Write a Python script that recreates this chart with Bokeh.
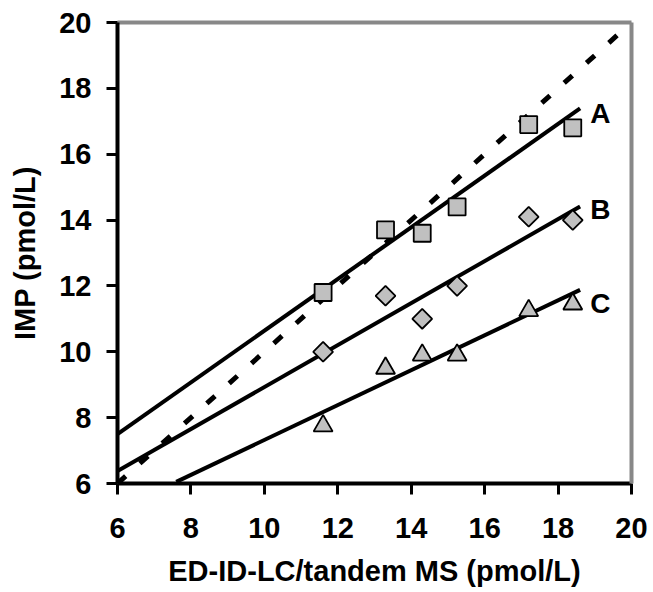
import math
from bokeh.plotting import figure
from bokeh.models import LinearAxis, FixedTicker, Range1d
from bokeh.core.properties import value
from bokeh.embed import file_html
from bokeh.resources import INLINE

# ---- data ----
x_ref = [11.6, 13.3, 14.3, 15.25, 17.2, 18.4]
imp_A = [11.8, 13.7, 13.6, 14.4, 16.9, 16.8]
imp_B = [10.0, 11.7, 11.0, 12.0, 14.1, 14.0]
imp_C = [7.75, 9.5, 9.9, 9.9, 11.25, 11.45]

# fitted regression lines (end points)
fit_A_x = [6.0, 18.6]
fit_A_y = [7.5, 17.39]
fit_B_x = [6.0, 18.6]
fit_B_y = [6.38, 14.41]
fit_C_x = [7.6, 18.6]
fit_C_y = [6.05, 11.88]

# identity line
ident_x = [6, 20]
ident_y = [6, 20]

series_labels = ["A", "B", "C"]
label_x = [19.15, 19.15, 19.15]
label_y = [17.23, 14.32, 11.47]

ticks = [6, 8, 10, 12, 14, 16, 18, 20]

FONT = "Liberation Sans"
FILL = "#c0c0c0"

p = figure(width=653, height=592, output_backend="svg", toolbar_location=None,
           x_range=Range1d(6, 20), y_range=Range1d(6, 20),
           min_border_left=117, min_border_right=22, min_border_top=22,
           min_border_bottom=109, outline_line_color=None,
           background_fill_color="white", border_fill_color="white")
p.xgrid.visible = False
p.ygrid.visible = False

for ax in (p.xaxis[0], p.yaxis[0]):
    ax.ticker = FixedTicker(ticks=ticks)
    ax.axis_line_width = 4
    ax.axis_line_color = "black"
    ax.major_tick_line_width = 3
    ax.major_tick_line_color = "black"
    ax.major_tick_out = 11
    ax.major_tick_in = 0
    ax.minor_tick_line_color = None
    ax.major_label_text_font = FONT
    ax.major_label_text_font_style = "bold"
    ax.major_label_text_font_size = "29px"
    ax.major_label_text_color = "black"
    ax.axis_label_text_font = FONT
    ax.axis_label_text_font_style = "bold"
    ax.axis_label_text_font_size = "29px"
    ax.axis_label_text_color = "black"

p.xaxis[0].axis_label = "ED-ID-LC/tandem MS (pmol/L)"
p.yaxis[0].axis_label = "IMP (pmol/L)"
p.xaxis[0].major_label_standoff = 23
p.xaxis[0].axis_label_standoff = 14
p.yaxis[0].major_label_standoff = 15
p.yaxis[0].axis_label_standoff = 15

# gray top/right frame lines
for side in ("right", "above"):
    ax = LinearAxis(ticker=FixedTicker(ticks=[]), axis_line_color="#888888",
                    axis_line_width=4, major_tick_line_color=None,
                    minor_tick_line_color=None, major_label_text_font_size="0px")
    p.add_layout(ax, side)

# identity dashed line
p.line(ident_x, ident_y, line_color="black", line_width=5, line_dash="11 19")

# regression lines
for fx, fy in ((fit_A_x, fit_A_y), (fit_B_x, fit_B_y), (fit_C_x, fit_C_y)):
    p.line(fx, fy, line_color="black", line_width=4)

# markers
p.scatter(x_ref, imp_A, marker="square", size=17, fill_color=FILL,
          line_color="black", line_width=1.8)
p.scatter(x_ref, imp_B, marker="square", size=14, angle=math.pi / 4,
          fill_color=FILL, line_color="black", line_width=1.8)
p.scatter(x_ref, imp_C, marker="triangle", size=19, fill_color=FILL,
          line_color="black", line_width=1.8)

p.text(x=label_x, y=label_y, text=series_labels, text_font=value(FONT),
       text_font_style="bold", text_font_size="28px", text_align="center",
       text_baseline="alphabetic", text_color="black")

open("out.html", "w").write(file_html(p, INLINE))
